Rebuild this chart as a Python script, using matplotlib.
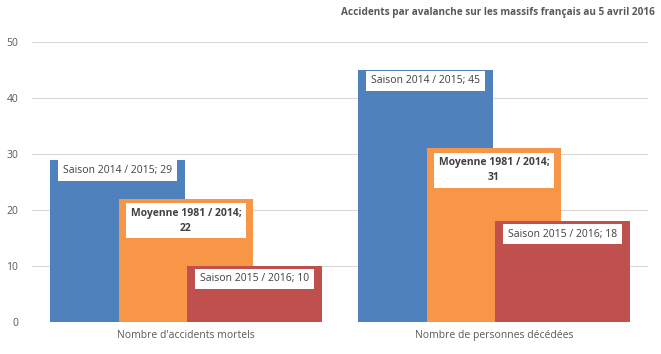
import matplotlib.pyplot as plt
import numpy as np

categories = ["Nombre d'accidents mortels", "Nombre de personnes décédées"]
series_names = ["Saison 2014 / 2015", "Moyenne 1981 / 2014", "Saison 2015 / 2016"]
saison_2014_2015 = [29, 45]
moyenne_1981_2014 = [22, 31]
saison_2015_2016 = [10, 18]
yticks = [0, 10, 20, 30, 40, 50]

plt.rcParams['font.family'] = ['Open Sans', 'DejaVu Sans']

fig = plt.figure(figsize=(6.61, 3.54), dpi=100)
ax = fig.add_axes([0.0484, 0.0904, 0.932, 0.791])

colors = ["#4F81BD", "#F79646", "#C0504D"]
values = [saison_2014_2015, moyenne_1981_2014, saison_2015_2016]
x = np.arange(len(categories))
width = 0.4365
offsets = [-0.223, 0.0, 0.223]
label_dy = [-11, -22, -13]

# Bars drawn in order so later series overlap earlier ones
for name, vals, col, off, dy in zip(series_names, values, colors, offsets, label_dy):
    ax.bar(x + off, vals, width=width, color=col, zorder=2)
    bold = name.startswith("Moyenne")
    for xi, v in zip(x, vals):
        txt = f"{name};\n{v}" if bold else f"{name}; {v}"
        ax.annotate(txt, (xi + off, v), xytext=(0, dy), textcoords='offset pixels',
                    ha='center', va='center', fontsize=7.5, color='#404040',
                    fontweight='bold' if bold else 'normal', linespacing=1.5,
                    bbox=dict(boxstyle='square,pad=0.45', fc='white', ec='none'),
                    zorder=3)

ax.set_xlim(-0.5, 1.5)
ax.set_ylim(0, 50)
ax.set_yticks(yticks)
ax.set_xticks(x)
ax.set_xticklabels(categories)
ax.tick_params(length=0, labelsize=7.5, labelcolor='#595959')
ax.tick_params(axis='y', pad=10)
ax.tick_params(axis='x', pad=6)
ax.grid(axis='y', color='#D9D9D9', linewidth=0.8, zorder=0)
for s in ax.spines.values():
    s.set_visible(False)

fig.text(0.99, 0.965, "Accidents par avalanche sur les massifs français au 5 avril 2016",
         ha='right', va='center', fontsize=7.2, fontweight='bold', color='#595959')

fig.savefig("out.png", dpi=100)
